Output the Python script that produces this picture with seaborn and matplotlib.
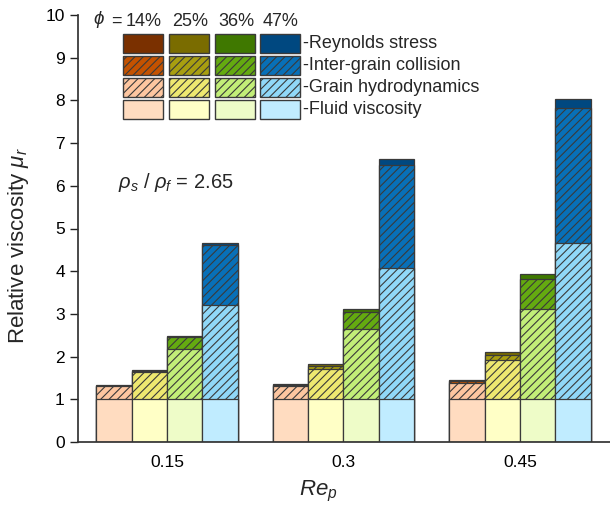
import numpy as np
import pandas as pd
import matplotlib
matplotlib.use("Agg")
import matplotlib.pyplot as plt
from matplotlib.patches import Rectangle
import seaborn as sns

# ---------------- data ----------------
re_labels = ["0.15", "0.3", "0.45"]
phi_labels = ["14%", "25%", "36%", "47%"]
components = ["Reynolds stress", "Inter-grain collision", "Grain hydrodynamics", "Fluid viscosity"]

# increments (rows: Re_p, cols: phi)
fluid = [[1.0, 1.0, 1.0, 1.0],
         [1.0, 1.0, 1.0, 1.0],
         [1.0, 1.0, 1.0, 1.0]]
hydro = [[0.31, 0.64, 1.17, 2.20],
         [0.32, 0.71, 1.64, 3.08],
         [0.38, 0.92, 2.12, 3.65]]
collision = [[0.01, 0.03, 0.28, 1.42],
             [0.02, 0.06, 0.41, 2.41],
             [0.04, 0.11, 0.70, 3.18]]
reynolds = [[0.01, 0.02, 0.03, 0.03],
            [0.02, 0.05, 0.06, 0.13],
            [0.03, 0.07, 0.11, 0.20]]

colors = {
    "Reynolds stress":       ["#7a3000", "#7a6c00", "#3f7800", "#004880"],
    "Inter-grain collision": ["#c45200", "#a89e10", "#64aa10", "#0870b8"],
    "Grain hydrodynamics":   ["#fdc6a0", "#eee870", "#c2ee78", "#90d8f8"],
    "Fluid viscosity":       ["#ffdcc0", "#ffffc6", "#eefcc8", "#c0ecff"],
}
hatches = {"Reynolds stress": "", "Inter-grain collision": "////",
           "Grain hydrodynamics": "////", "Fluid viscosity": ""}

# ---------------- build cumulative table ----------------
f = np.array(fluid); h = np.array(hydro); c = np.array(collision); r = np.array(reynolds)
cum = {
    "Fluid viscosity": f,
    "Grain hydrodynamics": f + h,
    "Inter-grain collision": f + h + c,
    "Reynolds stress": f + h + c + r,
}
rows = []
for comp, arr in cum.items():
    for i, re in enumerate(re_labels):
        for j, ph in enumerate(phi_labels):
            rows.append({"component": comp, "Re": re, "phi": ph, "value": arr[i, j]})
df = pd.DataFrame(rows)

# ---------------- style ----------------
sns.set_theme(style="ticks")
plt.rcParams["font.family"] = ["Liberation Sans", "DejaVu Sans"]
plt.rcParams["mathtext.fontset"] = "custom"
plt.rcParams["mathtext.rm"] = "Liberation Sans"
plt.rcParams["mathtext.it"] = "Liberation Sans:italic"
plt.rcParams["hatch.linewidth"] = 0.8

W, H = 610, 505
fig = plt.figure(figsize=(W / 100, H / 100), dpi=100)
ax = fig.add_axes([78 / W, 1 - 442 / H, (W - 78) / W, (442 - 15) / H])

edge = "#3a3a3a"
for comp in components:  # top layers first, lower layers overdraw
    sub = df[df["component"] == comp]
    n_before = len(ax.patches)
    sns.barplot(data=sub, x="Re", y="value", hue="phi", order=re_labels,
                hue_order=phi_labels, palette=colors[comp], saturation=1,
                errorbar=None, legend=False, edgecolor=edge, linewidth=0.9,
                width=0.8, ax=ax)
    for p in ax.patches[n_before:]:
        p.set_hatch(hatches[comp])

ax.set_ylim(0, 10)
ax.set_xlim(-0.504, 2.51)
ax.set_yticks(range(0, 11))
ax.tick_params(axis="y", direction="out", length=6, width=1, labelsize=12.5, colors="#222222")
ax.tick_params(axis="x", length=0, labelsize=12.5, pad=9.5, colors="#222222")
for lbl in ax.get_xticklabels() + ax.get_yticklabels():
    lbl.set_color("black")
sns.despine(ax=ax, top=True, right=True)
ax.spines["left"].set_color("#333333")
ax.spines["bottom"].set_color("#333333")
ax.set_xlabel("$Re_p$", fontsize=16, va="top")
ax.xaxis.set_label_coords(0.451, -0.087)
ax.set_ylabel("Relative viscosity $\\mu_r$", fontsize=16)
ax.yaxis.set_label_coords(-0.088, 0.46)

fig.text(118 / W, 1 - 183 / H, r"$\rho_s$ / $\rho_f$ = 2.65", fontsize=14.5,
         ha="left", va="center")

# ---------------- custom legend ----------------
def fx(x):
    return x / W

def fy(y):
    return 1 - y / H

col_x = [123, 169, 215, 260]
row_y = [34, 56, 78, 100]
pw, ph_ = 40, 19
for ri, comp in enumerate(components):
    for ci in range(4):
        rect = Rectangle((fx(col_x[ci]), fy(row_y[ri] + ph_)), pw / W, ph_ / H,
                         transform=fig.transFigure, facecolor=colors[comp][ci],
                         edgecolor=edge, linewidth=1.0, hatch=hatches[comp])
        fig.add_artist(rect)
    fig.text(fx(303), fy(row_y[ri] + ph_ / 2), "-" + comp, fontsize=13,
             ha="left", va="center")

fig.text(fx(93), fy(20), r"$\phi$", fontsize=13.5, ha="left", va="center")
fig.text(fx(111), fy(21), "=", fontsize=13, ha="left", va="center")
for ci, lab in enumerate(phi_labels):
    fig.text(fx(col_x[ci] + pw / 2 + 1), fy(21), lab, fontsize=13, ha="center", va="center")

fig.savefig("out.png", dpi=100)
